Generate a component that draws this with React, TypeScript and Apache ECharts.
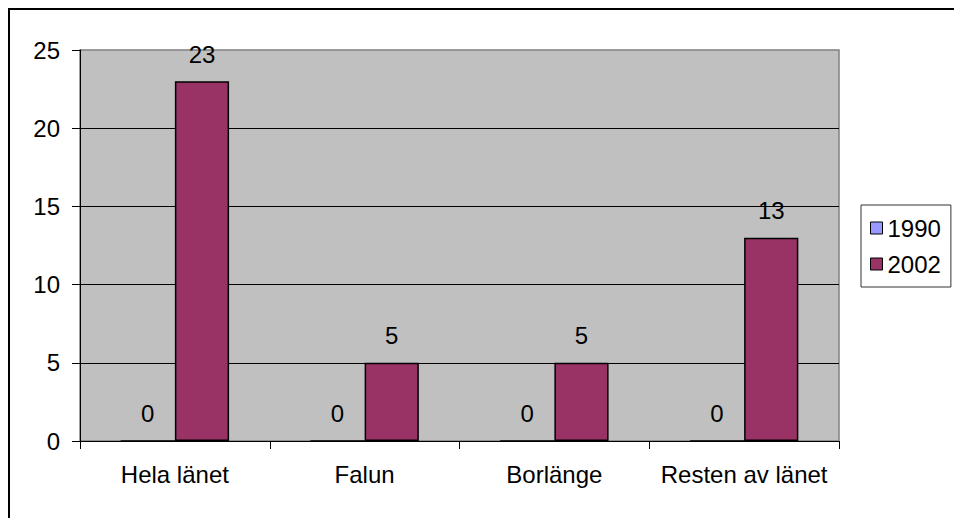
import React, { useEffect, useRef } from "react";
import * as echarts from "echarts";

const categories = ["Hela länet", "Falun", "Borlänge", "Resten av länet"];
const values1990 = [0, 0, 0, 0];
const values2002 = [23, 5, 5, 13];
const yTicks = { min: 0, max: 25, interval: 5 };

const FONT = "'Liberation Sans', Arial, sans-serif";

export default function App() {
  const ref = useRef<HTMLDivElement>(null);
  useEffect(() => {
    if (!ref.current) return;
    const chart = echarts.init(ref.current, undefined, { renderer: "svg" });
    const label = {
      show: true,
      position: "top",
      distance: 15,
      fontSize: 24,
      fontFamily: FONT,
      color: "#000",
    };
    chart.setOption({
      animation: false,
      textStyle: { fontFamily: FONT },
      grid: {
        left: 70,
        top: 40,
        width: 759,
        height: 391,
        show: true,
        backgroundColor: "#C0C0C0",
        borderColor: "#808080",
        borderWidth: 1.5,
      },
      legend: {
        orient: "vertical",
        left: 851,
        top: 195,
        padding: [11, 10, 11, 9],
        itemGap: 12,
        itemWidth: 12,
        itemHeight: 12,
        icon: "rect",
        backgroundColor: "#fff",
        borderColor: "#333",
        borderWidth: 1,
        textStyle: { fontSize: 24, fontFamily: FONT, color: "#000" },
        data: [
          { name: "1990", itemStyle: { borderColor: "#000", borderWidth: 1 } },
          { name: "2002", itemStyle: { borderColor: "#000", borderWidth: 1 } },
        ],
      },
      xAxis: {
        type: "category",
        data: categories,
        axisLine: { lineStyle: { color: "#000", width: 1 } },
        axisTick: { show: true, interval: 0, length: 8, lineStyle: { color: "#000" } },
        axisLabel: { interval: 0, margin: 21, fontSize: 24, fontFamily: FONT, color: "#000" },
      },
      yAxis: {
        type: "value",
        min: yTicks.min,
        max: yTicks.max,
        interval: yTicks.interval,
        axisLine: { show: true, lineStyle: { color: "#000", width: 1 } },
        axisTick: { show: true, length: 8, lineStyle: { color: "#000" } },
        axisLabel: { margin: 20, fontSize: 24, fontFamily: FONT, color: "#000" },
        splitLine: { show: true, showMaxLine: false, lineStyle: { color: "#000", width: 1 } },
      },
      series: [
        {
          name: "1990",
          type: "bar",
          data: values1990,
          barGap: "0%",
          barCategoryGap: "42.86%",
          itemStyle: { color: "#9999FF", borderColor: "#000", borderWidth: 1 },
          label,
        },
        {
          name: "2002",
          type: "bar",
          data: values2002,
          barGap: "0%",
          barCategoryGap: "42.86%",
          itemStyle: { color: "#993366", borderColor: "#000", borderWidth: 1.5 },
          label,
        },
      ],
    });
    return () => chart.dispose();
  }, []);
  return (
    <div
      style={{
        position: "fixed",
        left: 8,
        top: 8,
        width: 946,
        height: 510,
        borderTop: "2px solid #000",
        borderLeft: "2px solid #000",
        boxSizing: "border-box",
        background: "#fff",
      }}
    >
      <div ref={ref} style={{ width: 944, height: 508 }} />
    </div>
  );
}
